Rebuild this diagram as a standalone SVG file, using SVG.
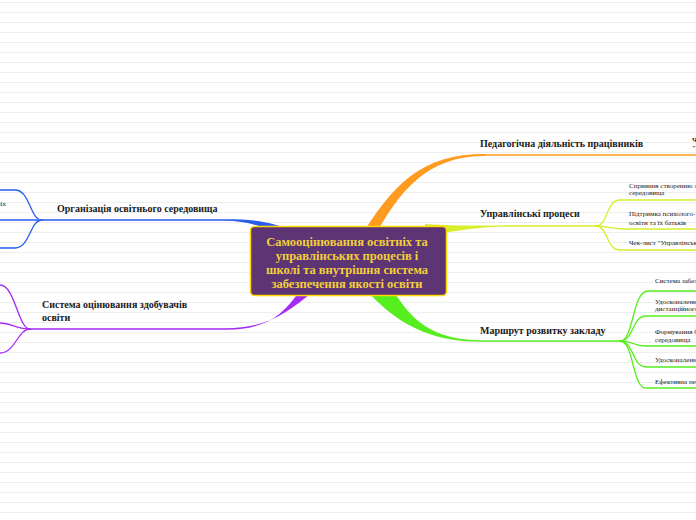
<svg xmlns="http://www.w3.org/2000/svg" width="696" height="520" viewBox="0 0 696 520">
<defs>
<pattern id="ruled" width="696" height="10" patternUnits="userSpaceOnUse" y="0">
<line x1="0" y1="2.5" x2="696" y2="2.5" stroke="#eeeeee" stroke-width="1"/>
</pattern>
<style>
.lbl{font-family:"Liberation Serif","Times New Roman",serif;font-weight:bold;font-size:10px;fill:#1a1a1a}
.sub{font-family:"Liberation Serif","Times New Roman",serif;font-size:7px;fill:#222}
.subb{font-family:"Liberation Serif","Times New Roman",serif;font-weight:bold;font-size:7px;fill:#222}
.ctr{font-family:"Liberation Serif","Times New Roman",serif;font-weight:bold;font-size:12.5px;fill:#f2cf3a}
.c{fill:none;stroke-width:1.3;stroke-linecap:round}
.or{stroke:#ff9b1e}.ye{stroke:#d7ee2a}.gr{stroke:#56ee1e}.bl{stroke:#2a5cf0}.pu{stroke:#a52cf5}
</style>
</defs>
<rect width="696" height="520" fill="#ffffff"/>
<rect width="696" height="520" fill="url(#ruled)"/>

<g id="connectors">
<!-- orange -->
<path d="M356 245 C392 183 422 154 485 154 L485 156 C428 156 400 188 370 245 Z" fill="#ff9b1e"/>
<path class="c or" d="M485 155 L696 155"/>
<!-- yellow -->
<path d="M425 224 C455 226 470 225.5 505 225.5 L505 226.8 C470 227 455 232 425 236 Z" fill="#d7ee2a"/>
<path class="c ye" d="M505 226 L596 226"/>
<path class="c ye" d="M596 226 C608 226 606 200 620 200 L696 200"/>
<path class="c ye" d="M596 226 C608 226 610 229 625 229 L696 229"/>
<path class="c ye" d="M596 226 C608 226 606 250 620 250 L696 250"/>
<!-- green -->
<path d="M390 285 C410 320 432 340.3 482 340.3 L482 341.8 C428 342 395 322 366 290 Z" fill="#56ee1e"/>
<path class="c gr" d="M482 341 L620 341"/>
<path class="c gr" d="M620 341 C634 341 632 291 648 291 L696 291"/>
<path class="c gr" d="M620 341 C634 341 632 316 646 316 L696 316"/>
<path class="c gr" d="M620 341 C634 341 632 346 646 346 L696 346"/>
<path class="c gr" d="M620 341 C634 341 632 367 646 367 L696 367"/>
<path class="c gr" d="M620 341 C634 341 632 388 646 388 L696 388"/>
<!-- blue -->
<path d="M300 234 C270 221 255 219.3 225 219.3 L225 220.8 C250 221 265 227 288 240 Z" fill="#2a5cf0"/>
<path class="c bl" d="M225 220 L42 220"/>
<path class="c bl" d="M42 220 C30 220 30 190 15 190 L0 190"/>
<path d="M42 220 L0 220" fill="none" stroke="#5a84f5" stroke-width="2"/>
<path class="c bl" d="M42 220 C30 220 30 248 15 248 L0 248"/>
<!-- purple -->
<path d="M315 290 C285 315 265 328.3 225 328.3 L225 329.7 C262 330 282 318 300 290 Z" fill="#a52cf5"/>
<path class="c pu" d="M225 329 L30 329"/>
<path class="c pu" d="M30 329 C18 329 15 285 0 285"/>
<path class="c pu" d="M30 329 C18 329 10 323 0 323"/>
<path class="c pu" d="M30 329 C18 329 15 353 0 353"/>
</g>

<g id="center">
<rect x="250.5" y="226.5" width="196" height="69" rx="4" fill="#5d3574" stroke="#ffd800" stroke-width="1.5"/>
<text class="ctr" text-anchor="middle" x="347" y="246">Самооцінювання освітніх та</text>
<text class="ctr" text-anchor="middle" x="347" y="260">управлінських процесів і</text>
<text class="ctr" text-anchor="middle" x="347" y="274">школі та внутрішня система</text>
<text class="ctr" text-anchor="middle" x="347" y="287.5">забезпечення якості освіти</text>
</g>

<g id="n-ped"><text class="lbl" x="480" y="147">Педагогічна діяльність працівників</text></g>
<g id="n-ped-1"><text class="subb" x="692" y="142">Чек-лист</text><text class="subb" x="692" y="150">"Педагогічна</text></g>

<g id="n-upr"><text class="lbl" x="480" y="217">Управлінські процеси</text></g>
<g id="n-upr-1"><text class="sub" x="629" y="187.5">Сприяння створенню з</text><text class="sub" x="629" y="195">середовища</text></g>
<g id="n-upr-2"><text class="sub" x="629" y="216">Підтримка психолого-</text><text class="sub" x="629" y="224.5">освіти та їх батьків</text></g>
<g id="n-upr-3"><text class="sub" x="629" y="245">Чек-лист "Управлінські</text></g>

<g id="n-mar"><text class="lbl" x="480" y="334">Маршрут розвитку закладу</text></g>
<g id="n-mar-1"><text class="sub" x="655" y="282.5">Система забезп</text></g>
<g id="n-mar-2"><text class="sub" x="655" y="304">Удосконалення</text><text class="sub" x="655" y="311">дистанційного</text></g>
<g id="n-mar-3"><text class="sub" x="655" y="334">Формування б</text><text class="sub" x="655" y="341.5">середовища</text></g>
<g id="n-mar-4"><text class="sub" x="655" y="361.5">Удосконалення</text></g>
<g id="n-mar-5"><text class="sub" x="655" y="384">Ефективна пе</text></g>

<g id="n-org"><text class="lbl" x="57" y="212">Організація освітнього середовища</text></g>
<g id="n-org-1"><text class="sub" x="6" y="206" text-anchor="end">освітніх</text></g>

<g id="n-sys"><text class="lbl" x="42" y="308">Система оцінювання здобувачів</text><text class="lbl" x="42" y="320.5">освіти</text></g>
</svg>
